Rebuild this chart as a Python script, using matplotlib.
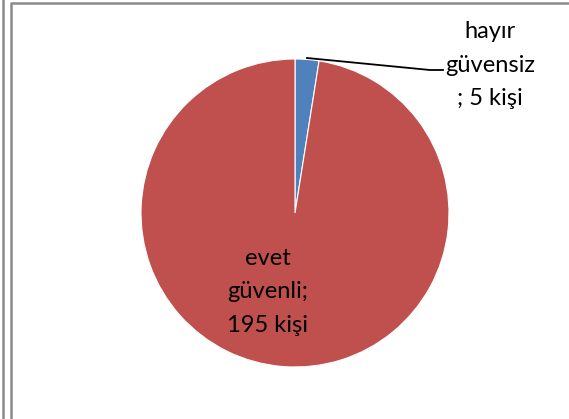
import matplotlib
matplotlib.use("Agg")
import matplotlib.pyplot as plt

labels = ["hayır\ngüvensiz\n; 5 kişi", "evet\ngüvenli;\n195 kişi"]
counts = [5, 195]
colors = ["#4F81BD", "#C0504D"]

W, H = 569, 419
fig = plt.figure(figsize=(W / 100, H / 100), dpi=100)
ax = fig.add_axes([0, 0, 1, 1])
ax.set_xlim(0, W)
ax.set_ylim(0, H)
ax.set_aspect("equal")
ax.axis("off")

cx, cy, r = 295, H - 213, 154
ax.pie(counts, startangle=90, counterclock=False, center=(cx, cy), radius=r,
       colors=colors, wedgeprops=dict(edgecolor="white", linewidth=0.8))
ax.set_xlim(0, W)
ax.set_ylim(0, H)

font = ["Lato", "DejaVu Sans"]
ax.text(490, H - 65, labels[0], ha="center", va="center", fontsize=17,
        linespacing=1.72, family=font, color="black")
ax.text(268, H - 292, labels[1], ha="center", va="center", fontsize=17,
        linespacing=1.72, family=font, color="black")
# leader line
ax.plot([307, 430, 443], [H - 58, H - 70, H - 70], color="black", lw=1.3)

# frames
grey = "#8a8a8a"
ax.plot([3.5, 3.5], [0, H], color=grey, lw=1.8)
ax.plot([11.5, 11.5, W], [0, H - 3.5, H - 3.5], color=grey, lw=1.8)

fig.savefig("out.png", dpi=100)
